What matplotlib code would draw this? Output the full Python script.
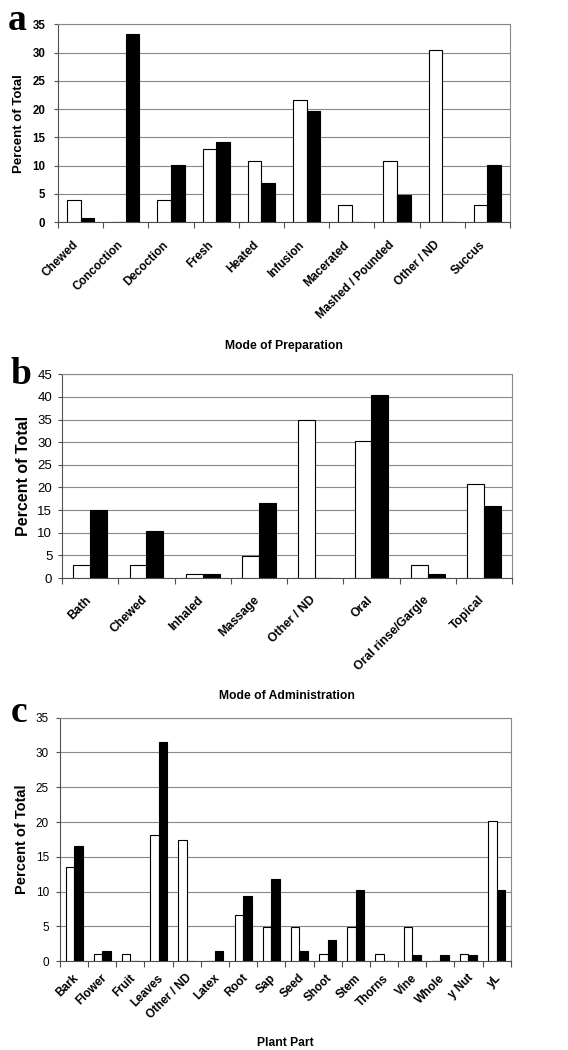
import matplotlib
matplotlib.use("Agg")
import matplotlib.pyplot as plt
import matplotlib.transforms as mtransforms
import numpy as np

plt.rcParams['font.family'] = ['Liberation Sans', 'DejaVu Sans']

# a: mode of preparation
prep_labels = ["Chewed", "Concoction", "Decoction", "Fresh", "Heated", "Infusion",
               "Macerated", "Mashed / Pounded", "Other / ND", "Succus"]
prep_white = [3.9, 0, 3.9, 12.9, 10.9, 21.6, 3.0, 10.9, 30.5, 3.0]
prep_black = [0.8, 33.2, 10.2, 14.2, 7.0, 19.7, 0, 4.8, 0, 10.2]

# b: mode of administration
admin_labels = ["Bath", "Chewed", "Inhaled", "Massage", "Other / ND", "Oral",
                "Oral rinse/Gargle", "Topical"]
admin_white = [2.8, 2.8, 0.9, 4.9, 34.9, 30.3, 2.8, 20.8]
admin_black = [15.1, 10.4, 0.9, 16.6, 0, 40.5, 0.9, 16.0]

# c: plant part
part_labels = ["Bark", "Flower", "Fruit", "Leaves", "Other / ND", "Latex", "Root", "Sap",
               "Seed", "Shoot", "Stem", "Thorns", "Vine", "Whole", "y Nut", "yL"]
part_white = [13.5, 1.0, 1.0, 18.2, 17.4, 0, 6.7, 4.9, 4.9, 1.0, 4.9, 1.0, 4.9, 0, 1.0, 20.2]
part_black = [16.5, 1.5, 0, 31.5, 0, 1.5, 9.4, 11.8, 1.5, 3.1, 10.3, 0, 0.9, 0.9, 0.9, 10.3]

fig = plt.figure(figsize=(5.68, 10.5), dpi=100)

panels = [
    dict(rect=[0.1021, 0.7883, 0.7958, 0.1886], labels=prep_labels, white=prep_white,
         black=prep_black, ymax=35, xlab="Mode of Preparation", xly=-0.594, yly=-0.073,
         tickfs=8.3, tickbold=True, xfs=8.5, ylfs=9.5, xpad=15, dx=-4, ypad=6,
         letter="a", lpos=(0.030, 0.9714)),
    dict(rect=[0.1092, 0.4495, 0.7923, 0.1940], labels=admin_labels, white=admin_white,
         black=admin_black, ymax=45, xlab="Mode of Administration", xly=-0.55, yly=-0.069,
         tickfs=9.5, tickbold=False, xfs=8.8, ylfs=11.5, xpad=14.4, dx=-1, ypad=4,
         letter="b", lpos=(0.037, 0.6343)),
    dict(rect=[0.1056, 0.0845, 0.7935, 0.2320], labels=part_labels, white=part_white,
         black=part_black, ymax=35, xlab="Plant Part", xly=-0.31, yly=-0.069,
         tickfs=8.5, tickbold=False, xfs=8.5, ylfs=10.5, xpad=10.8, dx=3, ypad=5,
         letter="c", lpos=(0.033, 0.3124)),
]

for p in panels:
    ax = fig.add_axes(p["rect"])
    labels = p["labels"]
    x = np.arange(len(labels))
    w = 0.3
    ax.bar(x - w / 2, p["white"], w, color="white", edgecolor="black", linewidth=0.8, zorder=3)
    ax.bar(x + w / 2, p["black"], w, color="black", edgecolor="black", linewidth=0.8, zorder=3)
    ax.set_xlim(-0.5, len(labels) - 0.5)
    ax.set_ylim(0, p["ymax"])
    ax.set_yticks(np.arange(0, p["ymax"] + 1, 5))
    ax.yaxis.grid(True, color="#888888", linewidth=0.8, zorder=0)
    for s in ax.spines.values():
        s.set_color("#888888")
        s.set_linewidth(0.8)
    ax.spines['left'].set_color("#505050")
    ax.spines['bottom'].set_color("#505050")

    # category boundaries get the ticks, names sit on the centres
    ax.set_xticks(np.arange(len(labels) + 1) - 0.5)
    ax.set_xticklabels([])
    ax.set_xticks(x, minor=True)
    ax.set_xticklabels(labels, minor=True, rotation=45, ha="right", va="center",
                       rotation_mode="anchor", fontsize=p["xfs"], fontweight="bold")
    ax.tick_params(axis="x", which="minor", length=0, pad=p["xpad"])
    ax.tick_params(axis="x", which="major", length=4, color="#505050", direction="out")
    ax.tick_params(axis="y", length=3, color="#505050", labelsize=p["tickfs"], pad=p["ypad"])
    shift = mtransforms.ScaledTranslation(p["dx"] / 100, 0, fig.dpi_scale_trans)
    for t in ax.get_xticklabels(minor=True):
        t.set_transform(t.get_transform() + shift)
    if p["tickbold"]:
        for t in ax.get_yticklabels():
            t.set_fontweight("bold")

    ax.set_ylabel("Percent of Total", fontsize=p["ylfs"], fontweight="bold")
    ax.yaxis.set_label_coords(p["yly"], 0.5)
    ax.set_xlabel(p["xlab"], fontsize=8.7, fontweight="bold")
    ax.xaxis.set_label_coords(0.5, p["xly"])

    fig.text(p["lpos"][0], p["lpos"][1], p["letter"], fontsize=27, fontweight="bold",
             family=["Liberation Serif", "DejaVu Serif"], ha="center", va="baseline")

fig.savefig("out.png", dpi=100)
